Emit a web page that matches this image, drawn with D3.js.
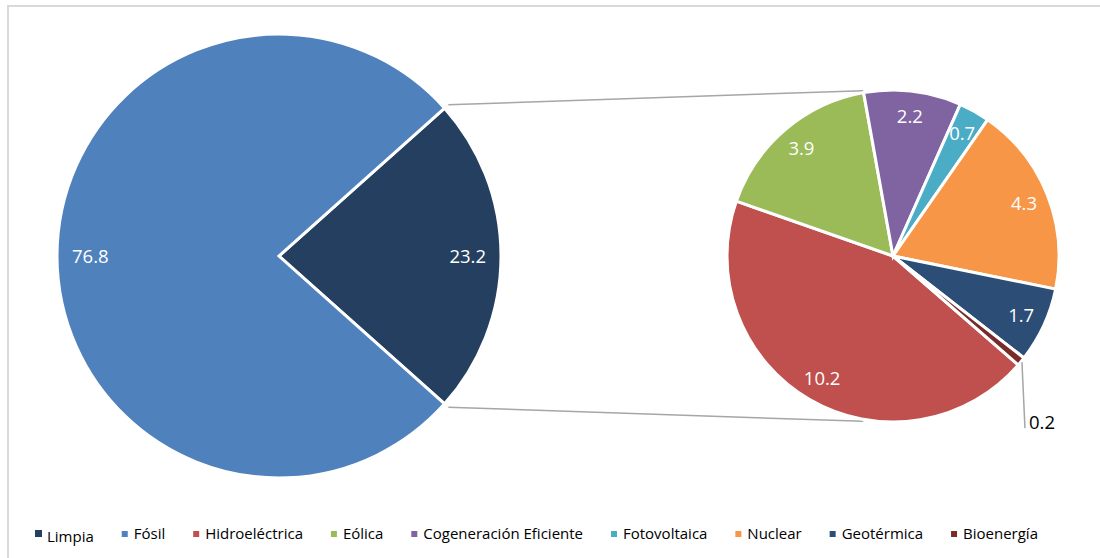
<!DOCTYPE html>
<html><head><meta charset="utf-8">
<script src="https://cdn.jsdelivr.net/npm/d3@7"></script>
<style>
html,body{margin:0;padding:0;background:#fff;}
svg{display:block;font-family:"Open Sans",sans-serif;}
</style></head>
<body><svg id="c" width="1100" height="558"></svg>
<script>
// ---- data ----
const mainCategories = ["Limpia", "Fósil"];
const mainValues = [23.2, 76.8];
const subCategories = ["Hidroeléctrica", "Eólica", "Cogeneración Eficiente", "Fotovoltaica", "Nuclear", "Geotérmica", "Bioenergía"];
const subValues = [10.2, 3.9, 2.2, 0.7, 4.3, 1.7, 0.2];
const legendLabels = ["Limpia", "Fósil", "Hidroeléctrica", "Eólica", "Cogeneración Eficiente", "Fotovoltaica", "Nuclear", "Geotérmica", "Bioenergía"];
const colors = {
  "Limpia": "#253f60", "Fósil": "#4f81bd", "Hidroeléctrica": "#c0504d", "Eólica": "#9bbb59",
  "Cogeneración Eficiente": "#8064a2", "Fotovoltaica": "#4bacc6", "Nuclear": "#f79646",
  "Geotérmica": "#2c4d75", "Bioenergía": "#772c2a"
};

const svg = d3.select("#c");
const deg = Math.PI / 180;

// frame
svg.append("rect").attr("x", 8).attr("y", 6).attr("width", 1110).attr("height", 570)
  .attr("fill", "none").attr("stroke", "#d9d9d9").attr("stroke-width", 2);

// ---- main pie ----
const bigC = [279, 256], bigR = 222;
const mainTotal = d3.sum(mainValues);
const mainStart = (90 - mainValues[0] / mainTotal * 180) * deg;
const mainPie = d3.pie().sort(null).startAngle(mainStart).endAngle(mainStart + 2 * Math.PI);
const mainArcs = mainPie(mainValues);
const bigArc = d3.arc().innerRadius(0).outerRadius(bigR);
const gBig = svg.append("g").attr("transform", `translate(${bigC})`);
gBig.selectAll("path").data(mainArcs).join("path")
  .attr("d", bigArc).attr("fill", (d, i) => colors[mainCategories[i]])
  .attr("stroke", "#fff").attr("stroke-width", 3).attr("stroke-linejoin", "miter");
const bigLabelArc = d3.arc().innerRadius(bigR * 0.85).outerRadius(bigR * 0.85);
gBig.selectAll("text").data(mainArcs).join("text")
  .attr("transform", d => `translate(${bigLabelArc.centroid(d)})`)
  .attr("text-anchor", "middle").attr("dy", "0.36em")
  .attr("fill", "#fff").attr("font-size", 18.5)
  .text(d => d.data.toFixed(1));

// ---- secondary pie ----
const smC = [893, 256], smR = 166;
const subStart = 131 * deg;
const subPie = d3.pie().sort(null).startAngle(subStart).endAngle(subStart + 2 * Math.PI);
const subArcs = subPie(subValues);
const smArc = d3.arc().innerRadius(0).outerRadius(smR);

// connector lines
const limp = mainArcs[0];
function pt(c, r, a) { return [c[0] + r * Math.sin(a), c[1] - r * Math.cos(a)]; }
const topEnd = subArcs[2].startAngle; // Eólica / Cogeneración boundary
const botEnd = Math.PI - (topEnd - 2 * Math.PI) ; // mirrored
const conn = [
  [pt(bigC, bigR + 5, limp.startAngle), pt(smC, smR + 2, topEnd)],
  [pt(bigC, bigR + 5, limp.endAngle), pt(smC, smR + 2, 2 * Math.PI - topEnd + Math.PI)]
];
svg.selectAll("line.conn").data(conn).join("line").attr("class", "conn")
  .attr("x1", d => d[0][0]).attr("y1", d => d[0][1])
  .attr("x2", d => d[1][0]).attr("y2", d => d[1][1])
  .attr("stroke", "#a6a6a6").attr("stroke-width", 1.5);

const gSm = svg.append("g").attr("transform", `translate(${smC})`);
gSm.selectAll("path").data(subArcs).join("path")
  .attr("d", smArc).attr("fill", (d, i) => colors[subCategories[i]])
  .attr("stroke", "#fff").attr("stroke-width", 3).attr("stroke-linejoin", "miter");
const smLabelArc = d3.arc().innerRadius(smR * 0.85).outerRadius(smR * 0.85);
const insideArcs = subArcs.filter(d => d.data >= 0.5);
gSm.selectAll("text.in").data(insideArcs).join("text").attr("class", "in")
  .attr("transform", d => `translate(${smLabelArc.centroid(d)})`)
  .attr("text-anchor", "middle").attr("dy", "0.36em")
  .attr("fill", "#fff").attr("font-size", 18.5)
  .text(d => d.data.toFixed(1));

// small-value label outside with leader
const bio = subArcs[subArcs.length - 1];
const bioMid = (bio.startAngle + bio.endAngle) / 2;
const lp = pt([0, 0], smR + 1, bioMid);
const labelPos = [lp[0] + 3, lp[1] + 66];
gSm.append("line").attr("x1", lp[0]).attr("y1", lp[1]).attr("x2", labelPos[0]).attr("y2", labelPos[1])
  .attr("stroke", "#a6a6a6").attr("stroke-width", 1.5);
gSm.append("text").attr("x", labelPos[0] + 4).attr("y", labelPos[1] - 6)
  .attr("dy", "0.36em").attr("fill", "#000").attr("font-size", 18.5)
  .text(bio.data.toFixed(1));

// ---- legend ----
const legendFont = 15;
const lg = svg.append("g");
const items = lg.selectAll("g").data(legendLabels).join("g");
items.append("text").attr("font-size", legendFont).attr("fill", "#000")
  .attr("y", (d, i) => i === 0 ? 542 : 539).text(d => d);
const widths = [];
items.select("text").each(function () { widths.push(this.getComputedTextLength()); });
const startX = 35, endX = 1038, markGap = 12;
const totalItems = d3.sum(widths) + markGap * legendLabels.length;
const gap = (endX - startX - totalItems) / (legendLabels.length - 1);
let x = startX;
items.each(function (d, i) {
  const g = d3.select(this);
  const s = i === 0 ? 7 : 6;
  g.append("rect").attr("x", x).attr("y", i === 0 ? 530 : 531).attr("width", s).attr("height", s)
    .attr("fill", colors[d]);
  g.select("text").attr("x", x + markGap);
  x += markGap + widths[i] + gap;
});
</script></body></html>
